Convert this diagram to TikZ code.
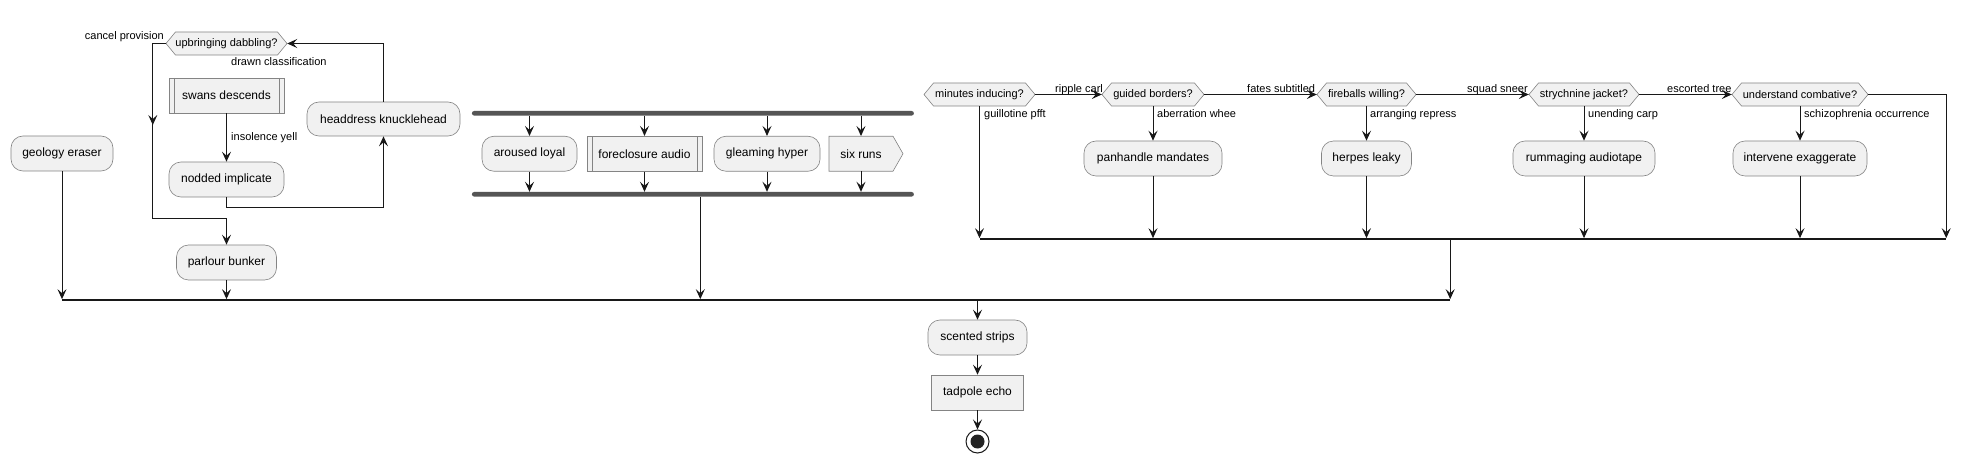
\documentclass[tikz,border=0pt]{standalone}
\usepackage{fontspec}
\setmainfont{Liberation Sans}
\usetikzlibrary{arrows.meta,decorations.markings}
\definecolor{boxfill}{HTML}{F1F1F1}
\definecolor{ink}{HTML}{181818}
\definecolor{edge}{HTML}{848484}
\definecolor{barc}{HTML}{555555}
\tikzset{
 box/.style={draw=edge, line width=0.6pt, fill=boxfill, rounded corners=12pt, inner sep=0pt,
   font=\fontsize{12}{14}\selectfont, minimum height=35pt},
 rbox/.style={box, sharp corners},
 subbox/.style={rbox, path picture={
   \draw[edge, line width=0.6pt] ([xshift=5pt]path picture bounding box.north west) -- ([xshift=5pt]path picture bounding box.south west);
   \draw[edge, line width=0.6pt] ([xshift=-5pt]path picture bounding box.north east) -- ([xshift=-5pt]path picture bounding box.south east);}},
 hextext/.style={inner sep=0pt, font=\fontsize{11}{13}\selectfont, minimum height=23pt},
 hexpath/.style={draw=edge, line width=0.6pt, fill=boxfill},
 lbl/.style={inner sep=0pt, font=\fontsize{11}{13}\selectfont},
 tip/.tip={Stealth[length=10pt,width=9pt,inset=4pt]},
 conn/.style={draw=ink, line width=1pt, -tip},
 forkbar/.style={fill=barc, draw=none, inner sep=0pt, minimum height=4.6pt, rounded corners=2.3pt},
 mergebar/.style={fill=ink, draw=none, inner sep=0pt, minimum height=1.3pt},
 midtip/.style={postaction={decorate}, decoration={markings, mark=at position #1 with {\arrow{tip}}}},
}
\newcommand\hexdec[5]{%
 \path[hexpath] ({#2-#4},#3) -- ({#2-#4+9.5},{#3-11.5}) -- ({#2+#4-9.5},{#3-11.5}) -- ({#2+#4},#3)
   -- ({#2+#4-9.5},{#3+11.5}) -- ({#2-#4+9.5},{#3+11.5}) -- cycle;
 \node[hextext, minimum width=2*#4pt] (#1) at (#2,#3) {#5};}
\begin{document}
\begin{tikzpicture}[x=1pt,y=-1pt]
\fill[white] (0,0) rectangle (1970,462);
\useasboundingbox (0,0) rectangle (1970,462);

% ---------- left part ----------
\node[box, minimum width=102pt] (geo) at (62,153.5) {geology eraser};
\hexdec{upd}{226.5}{43.5}{60.5}{upbringing dabbling?}
\node[lbl, anchor=base east] (lcancel) at (164,39.5) {cancel provision};
\node[lbl, anchor=base west] (ldrawn) at (231,66) {drawn classification};
\node[subbox, minimum width=115pt] (swan) at (226.5,95.5) {swans descends};
\node[box, minimum width=115pt] (nod) at (226.5,179.5) {nodded implicate};
\node[box, minimum width=153pt, minimum height=34pt] (head) at (383.5,119) {headdress knucklehead};
\node[box, minimum width=100pt] (par) at (226.5,262.5) {parlour bunker};
\node[lbl, anchor=base west] (linso) at (231,141) {insolence yell};

\draw[conn] (swan.south) -- (nod.north);
\draw[conn] (nod.south) -- ++(0,10) -| (head.south);
\draw[conn] (head.north) |- (upd.east);
\draw[conn, midtip=94.5pt] (upd.west) -- ++(-13,0) -- ++(0,175.5) -| (par.north);

% ---------- fork part ----------
\node[forkbar, minimum width=442pt] (forkT) at (692.9,113.3) {};
\node[forkbar, minimum width=442pt] (forkB) at (692.9,194.3) {};
\node[box, minimum width=95pt] (aro) at (529.5,153.75) {aroused loyal};
\node[subbox, minimum width=115pt] (fore) at (644.5,153.75) {foreclosure audio};
\node[box, minimum width=106pt] (glea) at (767,153.75) {gleaming hyper};
\path[hexpath] (829,136.25) -- (893,136.25) -- (903,153.75) -- (893,171.25) -- (829,171.25) -- cycle;
\node[inner sep=0pt, font=\fontsize{12}{14}\selectfont, minimum width=64pt, minimum height=35pt] (six) at (861,153.75) {six runs};
\foreach \n in {aro,fore,glea,six}{
  \draw[conn] (\n.north |- forkT.south) -- (\n.north);
  \draw[conn] (\n.south) -- (\n.south |- forkB.north);
}

% ---------- decision chain ----------
\hexdec{mini}{979.5}{94.5}{55.5}{minutes inducing?}
\hexdec{guid}{1153}{94.5}{51}{guided borders?}
\hexdec{fire}{1366.5}{94.5}{49.5}{fireballs willing?}
\hexdec{stry}{1584}{94.5}{55}{strychnine jacket?}
\hexdec{unde}{1800}{94.5}{68}{understand combative?}
\node[lbl, anchor=base west] (lrip) at (1055,92.5) {ripple carl};
\node[lbl, anchor=base west] (lfat) at (1247,92.5) {fates subtitled};
\node[lbl, anchor=base west] (lsqu) at (1467,92.5) {squad sneer};
\node[lbl, anchor=base west] (lesc) at (1667,92.5) {escorted tree};
\node[lbl, anchor=base west] (lgui) at (984,118) {guillotine pfft};
\node[lbl, anchor=base west] (labe) at (1157,118) {aberration whee};
\node[lbl, anchor=base west] (larr) at (1370,118) {arranging repress};
\node[lbl, anchor=base west] (lune) at (1588,118) {unending carp};
\node[lbl, anchor=base west] (lsch) at (1804,118) {schizophrenia occurrence};
\node[box, minimum width=138pt] (pan) at (1153,158.5) {panhandle mandates};
\node[box, minimum width=90pt] (her) at (1366.5,158.5) {herpes leaky};
\node[box, minimum width=142pt] (rum) at (1584,158.5) {rummaging audiotape};
\node[box, minimum width=134pt] (int) at (1800,158.5) {intervene exaggerate};
\node[mergebar, minimum width=966.5pt] (mergeR) at (1462.75,239) {};

\draw[conn] (mini.east) -- (guid.west);
\draw[conn] (guid.east) -- (fire.west);
\draw[conn] (fire.east) -- (stry.west);
\draw[conn] (stry.east) -- (unde.west);
\draw[conn] (mini.south) -- (mini.south |- mergeR.north);
\foreach \d/\b in {guid/pan,fire/her,stry/rum,unde/int}{
  \draw[conn] (\d.south) -- (\b.north);
  \draw[conn] (\b.south) -- (\b.south |- mergeR.north);
}
\draw[conn] (unde.east) -| (mergeR.north east);

% ---------- main merge and end ----------
\node[mergebar, minimum width=1388pt] (mainbar) at (756,300) {};
\coordinate (fj) at (700.3,194.3);
\draw[conn] (geo.south) -- (geo.south |- mainbar.north);
\draw[conn] (par.south) -- (par.south |- mainbar.north);
\draw[conn] (fj |- forkB.south) -- (fj |- mainbar.north);
\draw[conn] (mergeR.south -| mainbar.east) -- (mainbar.north east);

\node[box, minimum width=99pt] (sce) at (977.5,337.5) {scented strips};
\node[rbox, minimum width=92pt] (tad) at (977.5,392.5) {tadpole echo};
\node[circle, draw=ink, line width=1pt, fill=white, minimum size=23pt, inner sep=0pt] (fin) at (977.5,441.5) {};
\fill[ink!95!white] (fin.center) circle (7pt);
\draw[conn] (sce.north |- mainbar.south) -- (sce.north);
\draw[conn] (sce.south) -- (tad.north);
\draw[conn] (tad.south) -- (fin.north);
\end{tikzpicture}
\end{document}
